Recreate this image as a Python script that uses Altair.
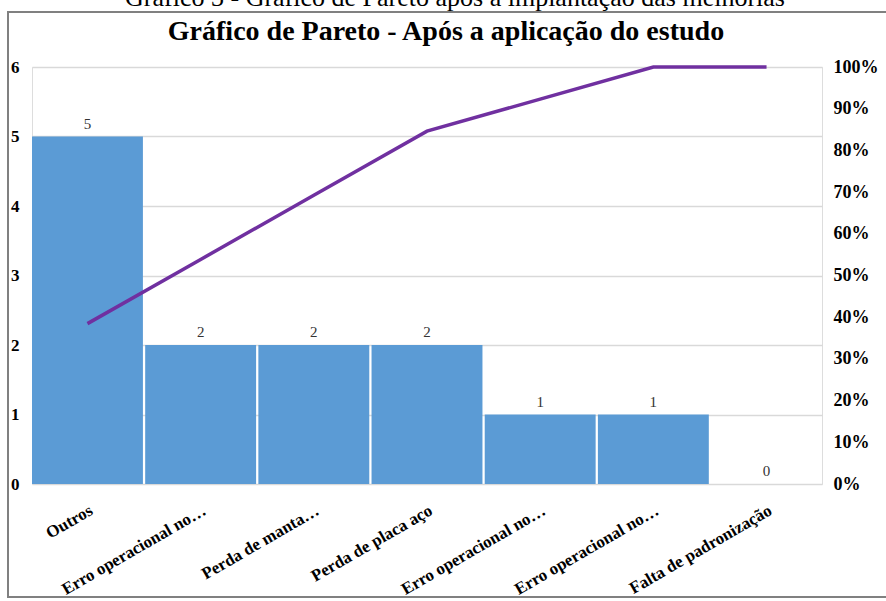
import altair as alt
import pandas as pd

categorias = ["Outros", "Erro operacional no…", "Perda de manta…", "Perda de placa aço",
              "Erro operacional no…", "Erro operacional no…", "Falta de padronização"]
ocorrencias = [5, 2, 2, 2, 1, 1, 0]
y_ticks = [0, 1, 2, 3, 4, 5, 6]
pct_ticks = [0, 0.1, 0.2, 0.3, 0.4, 0.5, 0.6, 0.7, 0.8, 0.9, 1.0]
legenda_figura = "Gráfico 3 - Gráfico de Pareto após a implantação das melhorias"
titulo = "Gráfico de Pareto - Após a aplicação do estudo"

total = sum(ocorrencias)
acum = []
s = 0
for v in ocorrencias:
    s += v
    acum.append(s / total)

df = pd.DataFrame({"idx": list(range(len(categorias))), "cat": categorias,
                   "n": ocorrencias, "acum": acum})

FONT = "Liberation Serif"
label_expr = "[" + ",".join("'" + c + "'" for c in categorias) + "][datum.value]"

x = alt.X("idx:O", scale=alt.Scale(paddingInner=0.02, paddingOuter=0),
          axis=alt.Axis(title=None, labelExpr=label_expr, labelAngle=-30, labelFont=FONT,
                        labelFontWeight="bold", labelFontSize=17, labelColor="#000",
                        ticks=False, domain=False, labelPadding=18))

base = alt.Chart(df)

bars = base.mark_bar(color="#5B9BD5").encode(
    x=x,
    y=alt.Y("n:Q", scale=alt.Scale(domain=[0, 6]),
            axis=alt.Axis(title=None, values=y_ticks, format="d", labelFont=FONT,
                          labelFontWeight="bold", labelFontSize=17, labelColor="#000",
                          ticks=False, domain=False, labelPadding=13, gridColor="#d9d9d9",
                          gridWidth=1.5)),
)

labels = base.mark_text(font=FONT, fontSize=15, color="#333", baseline="bottom", dy=-5).encode(
    x=x, y=alt.Y("n:Q", scale=alt.Scale(domain=[0, 6])), text="n:Q")

left = alt.layer(bars, labels)

line = base.mark_line(color="#7030A0", strokeWidth=3.5).encode(
    x=x,
    y=alt.Y("acum:Q", scale=alt.Scale(domain=[0, 1]),
            axis=alt.Axis(title=None, orient="right", values=pct_ticks, format=".0%",
                          labelFont=FONT, labelFontWeight="bold", labelFontSize=18,
                          labelColor="#000", ticks=False, domain=False, grid=False,
                          labelPadding=11)),
)

deco_df = pd.DataFrame({"a": [0]})
frame = alt.Chart(deco_df).mark_rect(fill=None, stroke="#808080", strokeWidth=2, clip=False).encode(
    x=alt.value(-24), x2=alt.value(880), y=alt.value(-55), y2=alt.value(530))
cap = alt.Chart(deco_df).mark_text(font=FONT, fontSize=26, color="#000", baseline="alphabetic").encode(
    x=alt.value(423), y=alt.value(-61), text=alt.value(legenda_figura))
tit = alt.Chart(deco_df).mark_text(font=FONT, fontSize=28, fontWeight="bold", color="#000",
                                   baseline="alphabetic").encode(
    x=alt.value(414), y=alt.value(-27), text=alt.value(titulo))

chart = alt.layer(left, line, frame, cap, tit).resolve_scale(y="independent").properties(
    width=790, height=417,
    autosize=alt.AutoSizeParams(type="none"),
    padding={"left": 32, "top": 67, "right": 64, "bottom": 117},
).configure_view(stroke="#d9d9d9", strokeWidth=1.5).configure(background="white")

chart.save("out.html", embed_options={"renderer": "svg", "actions": False})
